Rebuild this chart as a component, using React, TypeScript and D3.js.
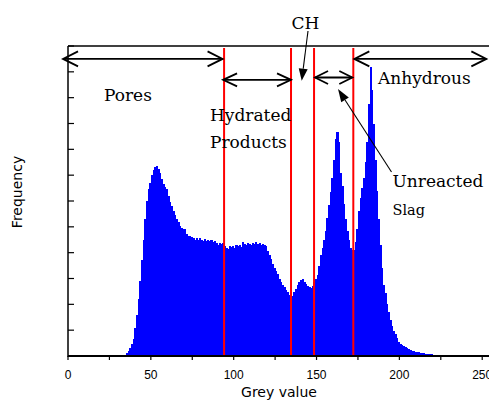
import React, { useEffect, useRef } from 'react';
import * as d3 from 'd3';

// Grey values 0..255 (one bar per grey level)
const greyValues: number[] = d3.range(256);

// Frequency (arbitrary units, one unit = one y tick)
const frequency: number[] = [
  0, 0, 0, 0, 0, 0, 0, 0, 0, 0,
  0, 0, 0, 0, 0, 0, 0, 0, 0, 0,
  0, 0, 0, 0, 0, 0, 0, 0, 0, 0.01,
  0.01, 0.01, 0.02, 0.03, 0.05, 0.1, 0.2, 0.32, 0.45, 0.65,
  1.1, 1.6, 2.2, 2.9, 3.7, 4.5, 5.3, 6.0, 6.45, 6.7,
  7.0, 7.2, 7.3, 7.36, 7.25, 7.1, 6.85, 6.65, 6.55, 6.45,
  6.2, 5.95, 5.8, 5.62, 5.46, 5.32, 5.2, 5.05, 4.96, 4.92,
  4.9, 4.72, 4.66, 4.64, 4.62, 4.56, 4.5, 4.55, 4.48, 4.56,
  4.5, 4.44, 4.52, 4.46, 4.5, 4.44, 4.48, 4.4, 4.45, 4.38,
  4.3, 4.36, 4.34, 4.38, 4.25, 4.18, 4.15, 4.24, 4.22, 4.26,
  4.2, 4.28, 4.25, 4.3, 4.22, 4.4, 4.34, 4.3, 4.36, 4.32,
  4.3, 4.36, 4.33, 4.4, 4.34, 4.38, 4.28, 4.34, 4.3, 4.24,
  4.05, 3.92, 3.75, 3.55, 3.4, 3.28, 3.18, 2.98, 2.86, 2.75,
  2.66, 2.55, 2.46, 2.38, 2.3, 2.34, 2.46, 2.58, 2.75, 2.86,
  2.94, 2.98, 2.85, 2.78, 2.72, 2.68, 2.62, 2.72, 2.85, 2.97,
  3.15, 3.5, 3.9, 4.2, 4.5, 4.85, 5.35, 5.85, 6.35, 6.9,
  7.6, 8.4, 8.68, 8.3, 7.1, 6.6, 5.9, 5.3, 4.85, 4.5,
  4.2, 4.12, 4.1, 4.4, 4.9, 5.6, 6.1, 6.5, 6.9, 7.5,
  8.3, 9.75, 11.2, 10.3, 9.0, 7.6, 6.4, 5.3, 4.3, 3.4,
  2.75, 2.45, 2.0, 1.7, 1.38, 1.17, 0.98, 0.85, 0.68, 0.56,
  0.46, 0.42, 0.37, 0.33, 0.3, 0.27, 0.24, 0.21, 0.19, 0.17,
  0.16, 0.14, 0.13, 0.12, 0.1, 0.09, 0.08, 0.07, 0.06, 0.06,
  0.05, 0.05, 0.04, 0.04, 0.03, 0.03, 0.03, 0.03, 0.02, 0.02,
  0.02, 0.02, 0.02, 0.02, 0.02, 0.02, 0.02, 0.02, 0.02, 0.02,
  0.02, 0.02, 0.02, 0.02, 0.01, 0.01, 0.01, 0.01, 0.01, 0.01,
  0.01, 0.01, 0.01, 0.01, 0.01, 0.01,
];

const xMajorTicks: number[] = [0, 50, 100, 150, 200, 250];
const xMinorTicks: number[] = [25, 75, 125, 175, 225];
const yTicks: number[] = d3.range(0, 13);

// Segmentation thresholds (grey values)
const thresholds: number[] = [94.2, 134.6, 148.5, 172.2];

const xTitle = 'Grey value';
const yTitle = 'Frequency';

const W = 489;
const H = 401;

export default function App() {
  const ref = useRef<SVGSVGElement | null>(null);

  useEffect(() => {
    const svg = d3.select(ref.current);
    svg.selectAll('*').remove();

    const x = d3.scaleLinear().domain([0, 255]).range([68, 490.5]);
    const y = d3.scaleLinear().domain([0, 12]).range([356, 46]);

    const serif = '"DejaVu Serif", serif';
    const sans = '"DejaVu Sans", sans-serif';

    // Histogram bars
    svg
      .append('g')
      .attr('shape-rendering', 'crispEdges')
      .selectAll('rect')
      .data(greyValues)
      .join('rect')
      .attr('x', (d) => x(d))
      .attr('width', (d) => x(d + 1) - x(d) + 0.6)
      .attr('y', (d) => y(frequency[d]))
      .attr('height', (d) => y(0) - y(frequency[d]))
      .attr('fill', '#0000ff');

    // Threshold lines
    svg
      .append('g')
      .selectAll('line')
      .data(thresholds)
      .join('line')
      .attr('x1', (d) => x(d))
      .attr('x2', (d) => x(d))
      .attr('y1', 48)
      .attr('y2', y(0))
      .attr('stroke', '#ff0000')
      .attr('stroke-width', 2);

    // Axes frame
    const axisG = svg.append('g').attr('stroke', '#000');
    axisG.append('line').attr('x1', 68).attr('x2', W).attr('y1', y(0)).attr('y2', y(0)).attr('stroke-width', 2);
    axisG.append('line').attr('x1', 68).attr('x2', W).attr('y1', y(12)).attr('y2', y(12)).attr('stroke-width', 1.5);
    axisG.append('line').attr('x1', 68).attr('x2', 68).attr('y1', y(12)).attr('y2', y(0) + 1).attr('stroke-width', 1.5);

    // Y ticks (inward)
    axisG
      .selectAll('line.yt')
      .data(yTicks)
      .join('line')
      .attr('class', 'yt')
      .attr('x1', 68)
      .attr('x2', 74)
      .attr('y1', (d) => y(d))
      .attr('y2', (d) => y(d))
      .attr('stroke-width', 1.2);

    // X ticks (outward)
    axisG
      .selectAll('line.xt')
      .data([...xMajorTicks, ...xMinorTicks])
      .join('line')
      .attr('class', 'xt')
      .attr('x1', (d) => x(d))
      .attr('x2', (d) => x(d))
      .attr('y1', y(0))
      .attr('y2', y(0) + 4)
      .attr('stroke-width', 1.2);

    svg
      .append('g')
      .selectAll('text')
      .data(xMajorTicks)
      .join('text')
      .attr('x', (d) => x(d))
      .attr('y', 378.5)
      .attr('text-anchor', 'middle')
      .attr('font-family', '"Liberation Sans", Arial, sans-serif')
      .attr('font-size', 12)
      .attr('fill', '#000')
      .text((d) => String(d));

    svg
      .append('text')
      .attr('x', 279)
      .attr('y', 397)
      .attr('text-anchor', 'middle')
      .attr('font-family', sans)
      .attr('font-size', 14)
      .text(xTitle);

    svg
      .append('text')
      .attr('transform', 'translate(22,192) rotate(-90)')
      .attr('text-anchor', 'middle')
      .attr('font-family', sans)
      .attr('font-size', 14)
      .text(yTitle);

    // Double-headed arrows with open heads
    const dbl = (xa: number, xb: number, yy: number, hl: number, hw: number) => {
      const g = svg.append('g').attr('stroke', '#000').attr('fill', 'none').attr('stroke-width', 1.8);
      g.append('line').attr('x1', xa).attr('x2', xb).attr('y1', yy).attr('y2', yy);
      g.append('path').attr('d', `M${xa + hl},${yy - hw} L${xa},${yy} L${xa + hl},${yy + hw}`);
      g.append('path').attr('d', `M${xb - hl},${yy - hw} L${xb},${yy} L${xb - hl},${yy + hw}`);
    };
    const rowTop = y(11.5);
    dbl(x(-3), x(thresholds[0]) - 1.5, rowTop, 15, 7.5);
    dbl(x(thresholds[3]) + 1, x(252.5), rowTop, 15, 7.5);
    dbl(x(thresholds[0]) - 1, x(thresholds[1]), y(10.69), 14, 6.5);
    dbl(x(thresholds[2]) + 1, x(thresholds[3]) - 1, y(10.78), 13, 6.5);

    // Pointer arrows with filled heads
    const pointer = (x0: number, y0: number, x1: number, y1: number, hl: number, hw: number) => {
      const ang = Math.atan2(y1 - y0, x1 - x0);
      const bx = x1 - hl * Math.cos(ang);
      const by = y1 - hl * Math.sin(ang);
      const px = -Math.sin(ang) * hw;
      const py = Math.cos(ang) * hw;
      svg.append('line').attr('x1', x0).attr('y1', y0).attr('x2', bx).attr('y2', by).attr('stroke', '#000').attr('stroke-width', 1.1);
      svg
        .append('path')
        .attr('d', `M${x1},${y1} L${bx + px},${by + py} L${bx - px},${by - py} Z`)
        .attr('fill', '#000');
    };
    pointer(308, 31, 301.7, 80.7, 12, 4.5);
    pointer(391.5, 172, 338, 89, 13, 4.5);

    // Labels
    const label = (t: string, xx: number, yy: number, fs: number, anchor = 'start') =>
      svg
        .append('text')
        .attr('x', xx)
        .attr('y', yy)
        .attr('text-anchor', anchor)
        .attr('font-family', serif)
        .attr('font-size', fs)
        .attr('fill', '#000')
        .text(t);

    label('CH', 305.5, 29, 17, 'middle');
    label('Pores', 104, 101, 17);
    label('Hydrated', 210, 120.5, 17);
    label('Products', 210, 148, 17);
    label('Anhydrous', 378, 83.5, 17);
    label('Unreacted', 392.5, 187, 17);
    label('Slag', 392.5, 215, 14.5);
  }, []);

  return (
    <svg
      ref={ref}
      width={W}
      height={H}
      viewBox={`0 0 ${W} ${H}`}
      style={{ position: 'absolute', left: 0, top: 0, background: '#fff' }}
    />
  );
}
